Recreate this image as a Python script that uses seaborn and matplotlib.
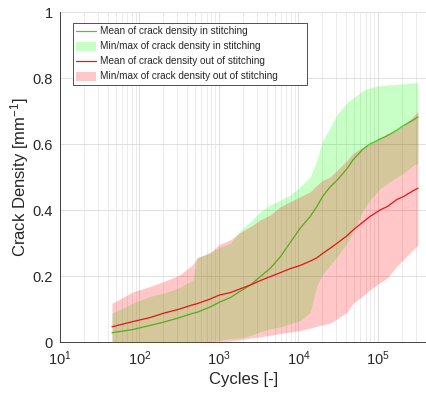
import numpy as np
import pandas as pd
import matplotlib
matplotlib.use("Agg")
import matplotlib.pyplot as plt
import seaborn as sns
from matplotlib.ticker import LogLocator, NullFormatter

# ========== DATA ==========
cycles = [45, 83, 135, 200, 320, 470, 530, 770, 1000, 1400, 1800, 2500, 3300,
          4400, 5900, 7800, 10500, 14000, 17000, 20000, 25000, 30500, 40700,
          48500, 65000, 79000, 106000, 130000, 173000, 206000, 275000, 318000]

mean_in = [0.028, 0.038, 0.050, 0.060, 0.074, 0.087, 0.090, 0.106, 0.120, 0.135,
           0.152, 0.173, 0.198, 0.223, 0.258, 0.300, 0.345, 0.380, 0.410, 0.440,
           0.470, 0.490, 0.525, 0.552, 0.585, 0.600, 0.615, 0.625, 0.642, 0.655,
           0.672, 0.682]
max_in = [0.087, 0.118, 0.138, 0.148, 0.165, 0.188, 0.255, 0.272, 0.285, 0.300,
          0.335, 0.365, 0.395, 0.415, 0.430, 0.445, 0.470, 0.500, 0.550, 0.610,
          0.650, 0.690, 0.725, 0.740, 0.762, 0.770, 0.777, 0.779, 0.781, 0.782,
          0.785, 0.786]
min_in = [0.0, 0.0, 0.0, 0.0, 0.0, 0.0, 0.0, 0.002, 0.005, 0.010, 0.012, 0.020,
          0.031, 0.040, 0.046, 0.055, 0.065, 0.090, 0.170, 0.205, 0.233, 0.258,
          0.300, 0.330, 0.400, 0.430, 0.465, 0.480, 0.500, 0.510, 0.535, 0.541]

mean_out = [0.046, 0.062, 0.074, 0.087, 0.100, 0.113, 0.116, 0.130, 0.142, 0.150,
            0.160, 0.173, 0.186, 0.198, 0.210, 0.222, 0.232, 0.245, 0.255, 0.268,
            0.284, 0.299, 0.322, 0.339, 0.364, 0.380, 0.400, 0.410, 0.432, 0.440,
            0.458, 0.466]
max_out = [0.117, 0.152, 0.168, 0.183, 0.203, 0.235, 0.255, 0.270, 0.295, 0.310,
           0.330, 0.350, 0.370, 0.385, 0.410, 0.425, 0.440, 0.455, 0.475, 0.490,
           0.500, 0.520, 0.550, 0.572, 0.590, 0.600, 0.617, 0.630, 0.642, 0.655,
           0.683, 0.698]
min_out = [0.0, 0.0, 0.0, 0.0, 0.0, 0.0, 0.0, 0.0, 0.0, 0.003, 0.006, 0.012,
           0.016, 0.020, 0.026, 0.030, 0.035, 0.042, 0.048, 0.052, 0.057, 0.070,
           0.090, 0.117, 0.140, 0.158, 0.180, 0.193, 0.230, 0.248, 0.279, 0.294]

df = pd.DataFrame({"cycles": cycles, "mean_in": mean_in, "min_in": min_in,
                   "max_in": max_in, "mean_out": mean_out, "min_out": min_out,
                   "max_out": max_out})

# ========== STYLE ==========
sns.set_style("white")
plt.rcParams['font.family'] = ['Liberation Sans', 'DejaVu Sans']
plt.rcParams['mathtext.fontset'] = 'custom'
plt.rcParams['mathtext.rm'] = 'Liberation Sans'
plt.rcParams['mathtext.it'] = 'Liberation Sans:italic'

fig = plt.figure(figsize=(4.27, 3.94), dpi=100)
ax = fig.add_axes([60 / 427, 52 / 394, 367 / 427, 330 / 394])

# ========== PLOT ==========
sns.lineplot(data=df, x="cycles", y="mean_in", ax=ax, color=(0.25, 0.8, 0.2),
             lw=0.9, label="Mean of crack density in stitching", zorder=2)
ax.fill_between(df["cycles"], df["min_in"], df["max_in"], color=(0, 1, 0),
                alpha=0.22, lw=0, label="Min/max of crack density in stitching", zorder=3)
sns.lineplot(data=df, x="cycles", y="mean_out", ax=ax, color=(0.88, 0.1, 0.1),
             lw=0.9, label="Mean of crack density out of stitching", zorder=4)
ax.fill_between(df["cycles"], df["min_out"], df["max_out"], color=(1, 0, 0),
                alpha=0.22, lw=0, label="Min/max of crack density out of stitching", zorder=5)

ax.set_xscale("log")
ax.set_xlim(10, 10 ** (1 + 367 / 79.5))
ax.set_ylim(0, 1)
ax.set_yticks([0, 0.2, 0.4, 0.6, 0.8, 1])
ax.set_yticklabels(["0", "0.2", "0.4", "0.6", "0.8", "1"])
ax.xaxis.set_major_locator(LogLocator(base=10, numticks=10))
ax.xaxis.set_minor_locator(LogLocator(base=10, subs=np.arange(2, 10), numticks=20))
ax.xaxis.set_minor_formatter(NullFormatter())

ax.grid(True, which="major", color="#dadada", lw=0.6, zorder=0)
ax.grid(True, which="minor", axis="x", color="#e3e3e3", lw=0.5, zorder=0)
ax.set_axisbelow(True)

for s in ["top", "right"]:
    ax.spines[s].set_visible(False)
for s in ["left", "bottom"]:
    ax.spines[s].set_color("#262626")
    ax.spines[s].set_linewidth(0.6)

ax.tick_params(axis="both", which="major", direction="in", length=3.5, width=0.6,
               colors="#262626", labelsize=10.5, pad=5)
ax.tick_params(axis="x", which="minor", direction="in", length=2, width=0.5,
               colors="#262626")

ax.set_xlabel("Cycles [-]", fontsize=12, color="#262626", labelpad=3)
ax.set_ylabel("Crack Density [mm$^{-1}$]", fontsize=12, color="#262626", labelpad=1)

# legend box spans 73..307 px wide, 23..87 px high in the figure
leg = ax.legend(loc="upper left", mode="expand",
                bbox_to_anchor=(73 / 427, 1 - 87 / 394, 234 / 427, 64 / 394),
                bbox_transform=fig.transFigure, fontsize=7.2, frameon=True,
                fancybox=False, edgecolor="#333333", framealpha=1,
                handlelength=2.0, handleheight=1.0, labelspacing=0.5,
                borderpad=0.35, handletextpad=0.35, borderaxespad=0)
leg.get_frame().set_linewidth(0.6)

plt.savefig("out.png", dpi=100)
plt.close()
